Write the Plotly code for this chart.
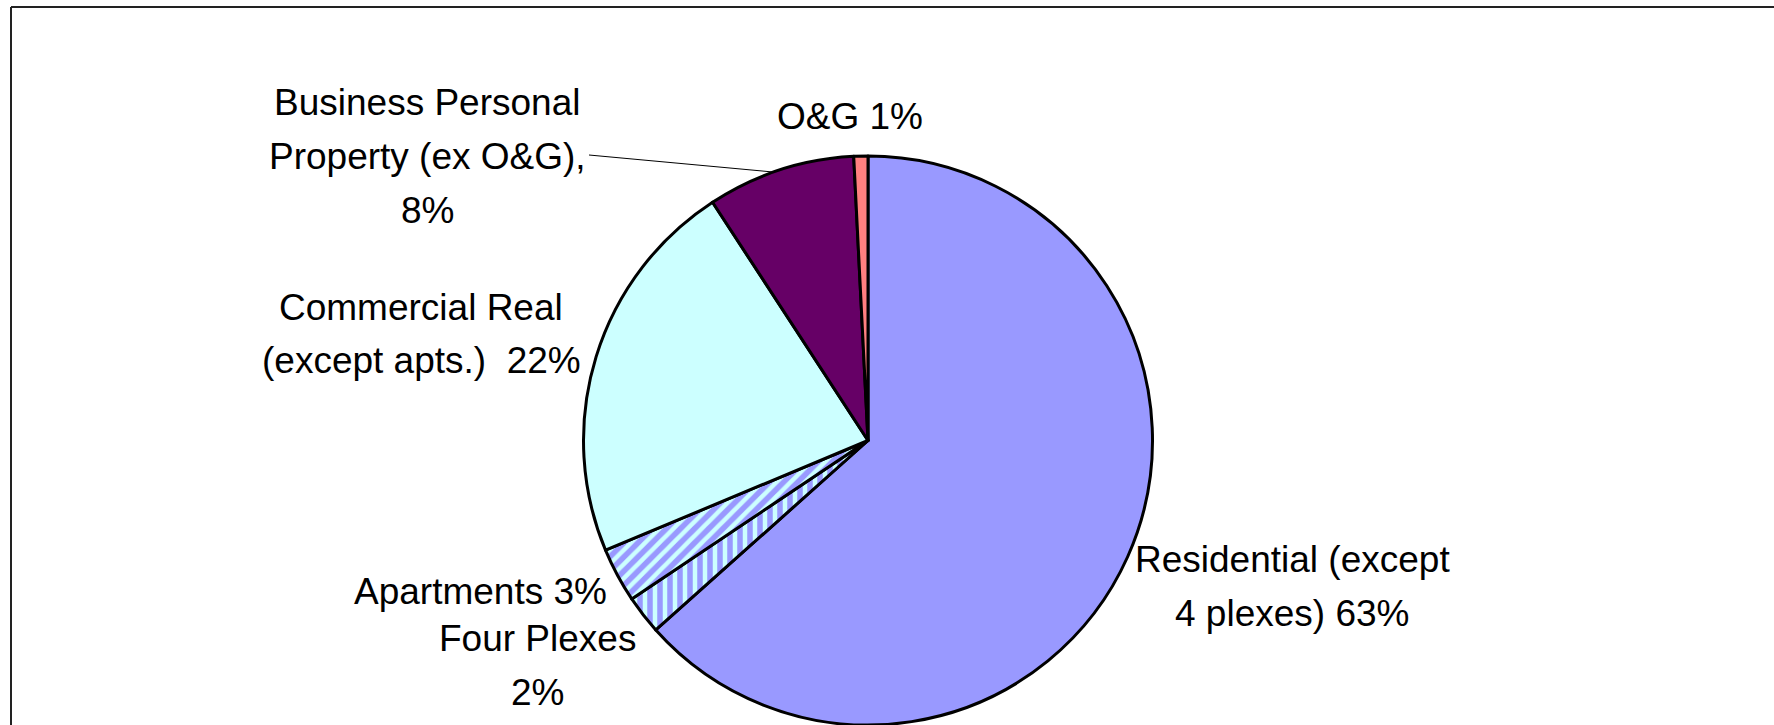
import plotly.graph_objects as go

# ---- data ----
categories = [
    "Residential (except 4 plexes)",
    "Four Plexes",
    "Apartments",
    "Commercial Real (except apts.)",
    "Business Personal Property (ex O&G)",
    "O&G",
]
values = [63.4, 2.2, 3.1, 22.1, 8.4, 0.8]
label_texts = [
    "Residential (except<br>4 plexes) 63%",
    "Four Plexes<br>2%",
    "Apartments 3%",
    "Commercial Real<br>(except apts.)\u00a0 22%",
    "Business Personal<br>Property (ex O&G),<br>8%",
    "O&G 1%",
]
slice_colors = ["#9999FF", "#9999FF", "#9999FF", "#CCFFFF", "#660066", "#FF8080"]
slice_patterns = ["", "|", "/", "", "", ""]

# ---- layout geometry (pixels of a 1774x725 canvas) ----
W, H = 1774, 725
cx = 868
pie_top = 156
line_gap = 54
label_pos = [  # (x center, y center of first line) in pixels
    (1292, 559),
    (537, 638),
    (480, 591),
    (421, 307),
    (427, 102),
    (850, 116),
]

def px(x):
    return x / W

def py(y):
    return 1 - y / H

fig = go.Figure(
    go.Pie(
        labels=categories,
        values=values,
        sort=False,
        direction="clockwise",
        rotation=0,
        textinfo="none",
        hoverinfo="label+percent",
        showlegend=False,
        marker=dict(
            colors=slice_colors,
            line=dict(color="black", width=3),
            pattern=dict(
                shape=slice_patterns,
                fgcolor="#CCFFFF",
                bgcolor="#9999FF",
                size=10,
                solidity=0.45,
            ),
        ),
        domain=dict(x=[px(cx - 300), px(cx + 300)], y=[0, py(pie_top)]),
    )
)

annotations = []
for txt, (x, y) in zip(label_texts, label_pos):
    for i, line in enumerate(txt.split("<br>")):
        annotations.append(
            dict(
                text=line,
                x=px(x),
                y=py(y + i * line_gap),
                xref="paper",
                yref="paper",
                xanchor="center",
                yanchor="middle",
                showarrow=False,
                align="center",
                font=dict(family="Liberation Sans, Arial, sans-serif", size=37, color="black"),
            )
        )

shapes = [
    # leader line for Business Personal Property
    dict(type="line", xref="paper", yref="paper",
         x0=px(589), y0=py(155), x1=px(773), y1=py(172),
         line=dict(color="black", width=1)),
    # chart-area frame (top and left edges)
    dict(type="line", xref="paper", yref="paper",
         x0=px(11), y0=py(7), x1=1, y1=py(7),
         line=dict(color="#222222", width=2)),
    dict(type="line", xref="paper", yref="paper",
         x0=px(11), y0=py(7), x1=px(11), y1=0,
         line=dict(color="#222222", width=2)),
]

fig.update_layout(
    width=W,
    height=H,
    margin=dict(l=0, r=0, t=0, b=0),
    paper_bgcolor="white",
    plot_bgcolor="white",
    annotations=annotations,
    shapes=shapes,
)

fig.write_html(
    "out.html",
    config={"displayModeBar": False},
    post_script="document.body.style.margin='0';document.body.style.overflow='hidden';",
)
